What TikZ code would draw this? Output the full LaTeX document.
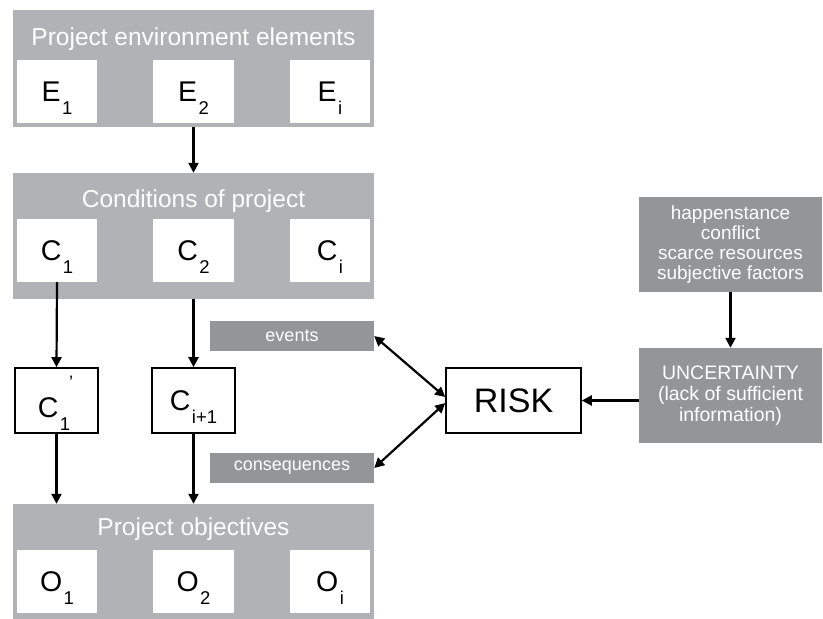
\documentclass[tikz,border=0pt]{standalone}
\usepackage{fontspec}
\setmainfont{Liberation Sans}
\usetikzlibrary{arrows.meta,calc}
\definecolor{panelgray}{RGB}{177,178,181}
\definecolor{darkbox}{RGB}{148,149,151}
\newcommand{\sbs}[1]{\smash{\raisebox{-13pt}{\fontsize{18.5}{18.5}\selectfont #1}}}
\newcommand{\bigf}{\fontsize{28.5}{28.5}\selectfont}
\begin{document}
\begin{tikzpicture}[x=1pt,y=-1pt,
  panel/.style={fill=panelgray,draw=none,inner sep=0,minimum width=361pt},
  wbox/.style={fill=white,draw=none,inner sep=0,minimum height=63pt,font=\bigf},
  bbox/.style={fill=white,draw=black,line width=1.6pt,inner sep=0,minimum height=65pt,minimum width=83pt,font=\bigf},
  dbox/.style={fill=darkbox,draw=none,inner sep=0,text=white,align=center},
  ptitle/.style={text=white,font=\fontsize{24.5}{24.5}\selectfont,anchor=base,inner sep=0},
  arr/.style={line width=2.2pt,-{Triangle[length=10pt,width=10pt]}},
  dbl/.style={line width=2.2pt,{Triangle[length=10pt,width=10pt]}-{Triangle[length=10pt,width=10pt]}}]
\useasboundingbox (0,0) rectangle (823,619);
% panel 1
\node[panel,minimum height=117pt] (p1) at (193.5,68.5) {};
\node[ptitle] (t1) at (193.5,45) {Project environment elements};
\node[wbox,minimum width=80pt] (E1) at (57,91.5) {E\hspace{1.5pt}\sbs{1}};
\node[wbox,minimum width=81pt] (E2) at (193.5,91.5) {E\hspace{1.5pt}\sbs{2}};
\node[wbox,minimum width=80pt] (Ei) at (330,91.5) {E\hspace{1.5pt}\sbs{i}};
% panel 2
\node[panel,minimum height=126pt] (p2) at (193.5,236) {};
\node[ptitle] (t2) at (193.5,207) {Conditions of project};
\node[wbox,minimum width=80pt] (C1) at (57,250.5) {C\hspace{1.5pt}\sbs{1}};
\node[wbox,minimum width=81pt] (C2) at (193.5,250.5) {C\hspace{1.5pt}\sbs{2}};
\node[wbox,minimum width=80pt] (Ci) at (330,250.5) {C\hspace{1.5pt}\sbs{i}};
% middle boxes
\node[bbox] (C1p) at (56.5,400.5) {};
\node[inner sep=0,anchor=base,font=\bigf] (C1pl) at (54,417) {C\hspace{1.5pt}\sbs{1}};
\node[inner sep=0,anchor=base,font=\fontsize{18}{18}\selectfont] (prm) at (71,388) {'};
\node[bbox] (Cip) at (193.5,400.5) {C\hspace{1.5pt}\sbs{i+1}};
\node[bbox,minimum width=135pt,font=\fontsize{34}{34}\selectfont] (risk) at (513.5,400.5) {RISK};
\node[dbox,minimum width=164pt,minimum height=30pt,font=\fontsize{18}{18}\selectfont] (ev) at (292,336) {events};
\node[dbox,minimum width=164pt,minimum height=30pt,font=\fontsize{18}{18}\selectfont] (cons) at (292,468) {consequences};
% panel 3
\node[panel,minimum height=116pt] (p3) at (193.5,562) {};
\node[ptitle] (t3) at (193.5,535) {Project objectives};
\node[wbox,minimum width=80pt] (O1) at (57,581.5) {O\hspace{1.5pt}\sbs{1}};
\node[wbox,minimum width=81pt] (O2) at (193.5,581.5) {O\hspace{1.5pt}\sbs{2}};
\node[wbox,minimum width=80pt] (Oi) at (330,581.5) {O\hspace{1.5pt}\sbs{i}};
% right boxes
\node[dbox,minimum width=183pt,minimum height=95pt,font=\fontsize{19}{20}\selectfont] (hap) at (730.5,244.5) {happenstance\\conflict\\scarce resources\\subjective factors};
\node[dbox,minimum width=183pt,minimum height=95pt,font=\fontsize{19.5}{21}\selectfont] (unc) at (730.5,395.5) {UNCERTAINTY\\(lack of sufficient\\information)};
% arrows
\draw[arr] (p1.south) -- (p2.north);
\draw[arr] (C1.south) -- (C1p.north);
\draw[arr] (p2.south) -- (Cip.north);
\draw[arr] (C1p.south) -- (C1p.south |- p3.north);
\draw[arr] (Cip.south) -- (p3.north);
\draw[dbl] (ev.east) -- ([yshift=3.5pt]risk.west);
\draw[dbl] (cons.east) -- ([yshift=-2.5pt]risk.west);
\draw[arr] (risk.east -| unc.west) -- (risk.east);
\draw[arr] (hap.south) -- (unc.north);
\end{tikzpicture}
\end{document}
